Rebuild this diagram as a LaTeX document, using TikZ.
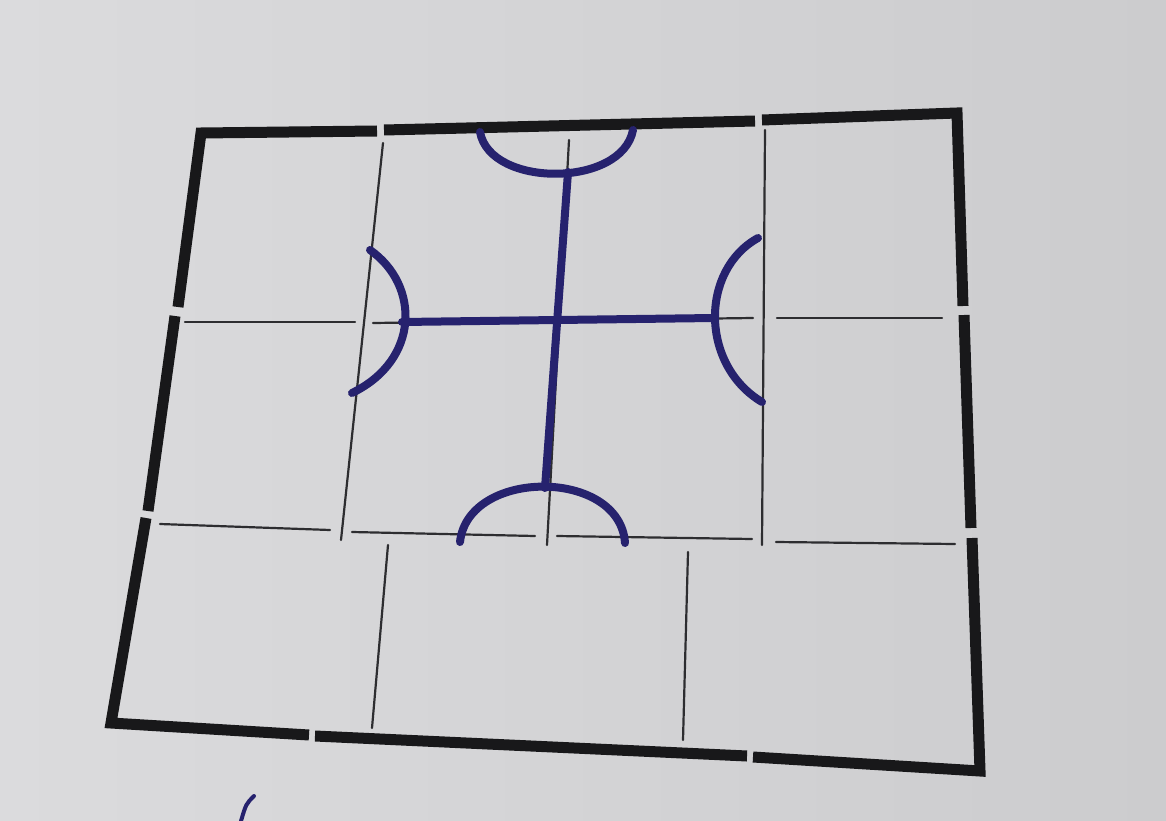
\documentclass[tikz,border=0pt]{standalone}
\definecolor{paper}{RGB}{219,219,221}
\definecolor{paperR}{RGB}{204,204,206}
\definecolor{inkblack}{RGB}{24,24,26}
\definecolor{pencil}{RGB}{45,45,48}
\definecolor{inkblue}{RGB}{38,34,110}
\begin{document}
\begin{tikzpicture}[x=1pt,y=-1pt,
  wall/.style={draw=inkblack,line width=11pt,line cap=butt,line join=miter},
  gridline/.style={draw=pencil,line width=2.2pt,line cap=round},
  blueink/.style={draw=inkblue,line width=8pt,line cap=round,line join=round}]
\useasboundingbox (0,0) rectangle (1166,821);
\shade[left color=paper,right color=paperR] (0,0) rectangle (1166,821);
% thin pencil grid
\draw[gridline] (185,322) -- (355,322);
\draw[gridline] (373,323) -- (753,318);
\draw[gridline] (777,318) -- (942,318);
\draw[gridline] (160,524) -- (330,530);
\draw[gridline] (352,532) -- (535,536);
\draw[gridline] (557,536) -- (752,539);
\draw[gridline] (776,542) -- (955,544);
\draw[gridline] (383,143) -- (341,540);
\draw[gridline] (765,130) -- (762,545);
\draw[gridline] (569,140) -- (547,545);
\draw[gridline] (388,545) -- (372,728);
\draw[gridline] (688,552) -- (683,740);
% outer walls
\draw[wall] (178,307) -- (201,133) -- (377,131);
\draw[wall] (384,130) -- (755,121);
\draw[wall] (762,120) -- (957,113) -- (963,306);
\draw[wall] (964,315) -- (971,528);
\draw[wall] (972,538) -- (980,771) -- (753,757);
\draw[wall] (747,756) -- (315,736);
\draw[wall] (309,735) -- (111,723) -- (146,518);
\draw[wall] (148,511) -- (175,316);
% blue cross with arcs
\draw[blueink] (568,172) -- (545,488);
\draw[blueink] (402,322) -- (714,318);
\draw[blueink] (480,132) .. controls (490,188) and (622,188) .. (633,130);
\draw[blueink] (370,250) .. controls (420,285) and (420,360) .. (352,393);
\draw[blueink] (758,238) .. controls (700,270) and (700,365) .. (762,402);
\draw[blueink] (460,542) .. controls (468,468) and (620,468) .. (625,543);
% stray pen mark at bottom
\draw[draw=inkblue,line width=4pt,line cap=round] (254,796) .. controls (246,804) .. (241,821);
\end{tikzpicture}
\end{document}
